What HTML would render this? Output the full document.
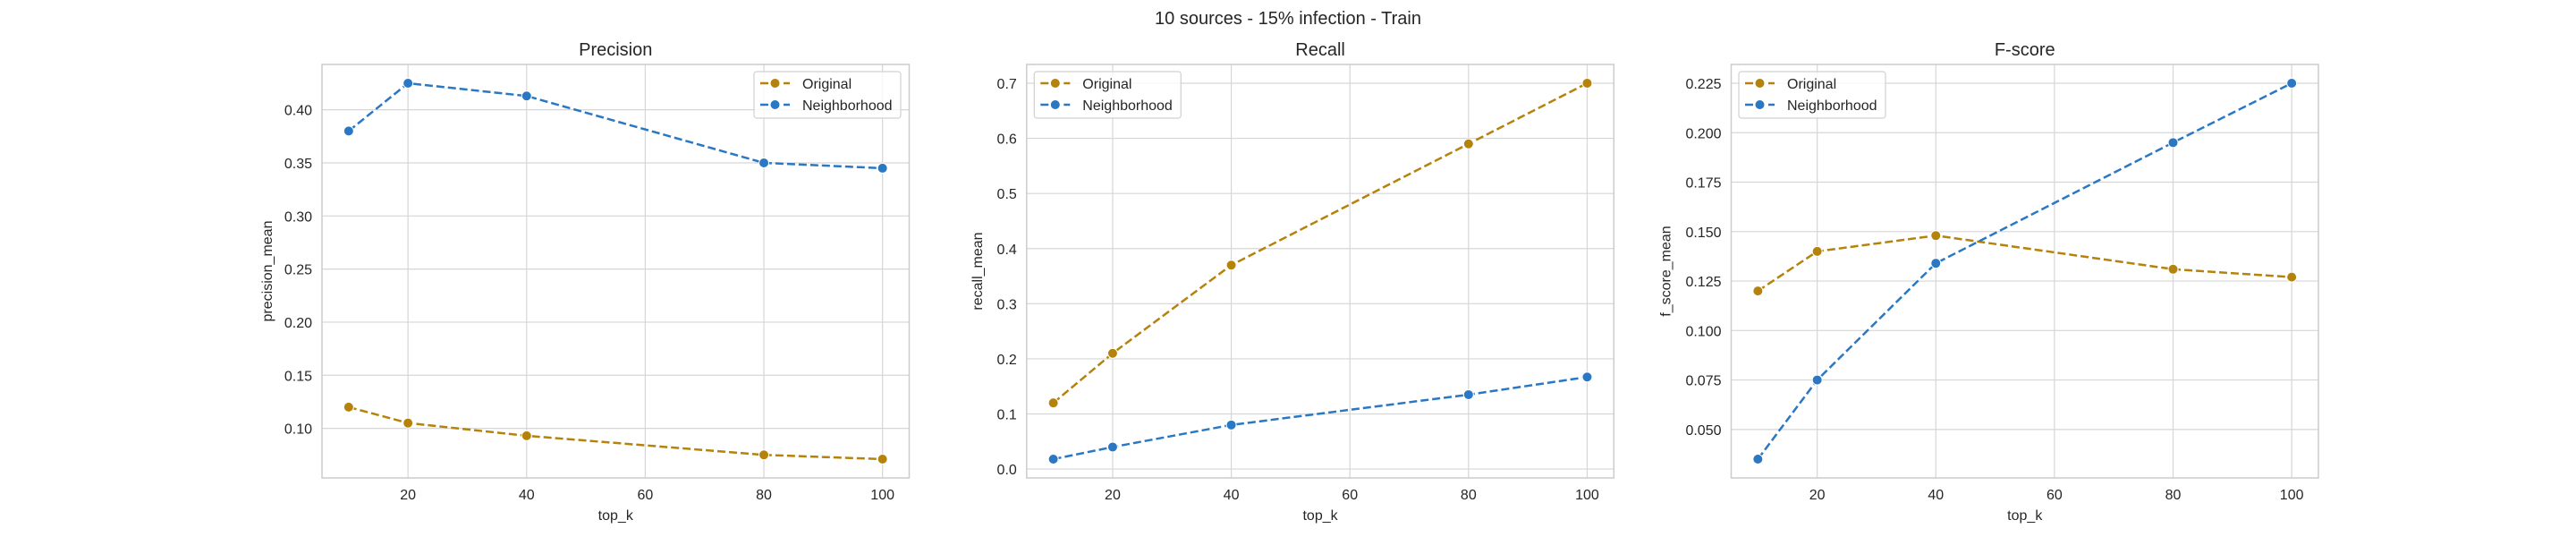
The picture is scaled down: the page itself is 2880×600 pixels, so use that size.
<!DOCTYPE html>
<html><head><meta charset="utf-8">
<style>
html,body{margin:0;padding:0;background:#fff;}
svg{display:block;font-family:"Liberation Sans",Arial,sans-serif;}
</style></head>
<body>
<svg id="fig" width="2880" height="600" viewBox="0 0 2880 600" xmlns="http://www.w3.org/2000/svg">
<rect x="0" y="0" width="2880" height="600" fill="#fff"/>
<text x="1440" y="27" font-size="20" fill="#262626" text-anchor="middle">10 sources - 15% infection - Train</text>
</svg>
<script>
const topK = [10, 20, 40, 80, 100];
const xTicks = [20, 40, 60, 80, 100];
const precisionOriginal = [0.12, 0.105, 0.093, 0.075, 0.071];
const precisionNeighborhood = [0.38, 0.425, 0.413, 0.35, 0.345];
const recallOriginal = [0.12, 0.21, 0.37, 0.59, 0.70];
const recallNeighborhood = [0.018, 0.04, 0.08, 0.135, 0.167];
const fscoreOriginal = [0.12, 0.14, 0.148, 0.131, 0.127];
const fscoreNeighborhood = [0.035, 0.075, 0.134, 0.195, 0.225];
const precisionTicks = ["0.10","0.15","0.20","0.25","0.30","0.35","0.40"];
const recallTicks = ["0.0","0.1","0.2","0.3","0.4","0.5","0.6","0.7"];
const fscoreTicks = ["0.050","0.075","0.100","0.125","0.150","0.175","0.200","0.225"];
const seriesNames = ["Original", "Neighborhood"];

const NS = "http://www.w3.org/2000/svg";
const svg = document.getElementById("fig");
const COL = ["#b5830b", "#2a78c4"];
function mk(tag, attrs, parent, text) {
  const e = document.createElementNS(NS, tag);
  for (const k in attrs) e.setAttribute(k, attrs[k]);
  if (text !== undefined) e.textContent = text;
  (parent || svg).appendChild(e);
  return e;
}
const panels = [
  {key:"precision", title:"Precision", ylabel:"precision_mean", x0:360, s:[precisionOriginal, precisionNeighborhood], ticks:precisionTicks, legend:"right", yl:56},
  {key:"recall", title:"Recall", ylabel:"recall_mean", x0:1147.8, s:[recallOriginal, recallNeighborhood], ticks:recallTicks, legend:"left", yl:50},
  {key:"fscore", title:"F-score", ylabel:"f_score_mean", x0:1935.5, s:[fscoreOriginal, fscoreNeighborhood], ticks:fscoreTicks, legend:"left", yl:68}
];
const W = 656.5, TOP = 72, BOT = 534;
panels.forEach(p => {
  const g = mk("g", {});
  
  
  const xmin = Math.min(...topK), xmax = Math.max(...topK);
  const xm = (xmax - xmin) * 0.05;
  const X = v => p.x0 + (v - (xmin - xm)) / ((xmax + xm) - (xmin - xm)) * W;
  const all = p.s[0].concat(p.s[1]);
  const ymin = Math.min(...all), ymax = Math.max(...all);
  const ym = (ymax - ymin) * 0.05;
  const lo = ymin - ym, hi = ymax + ym;
  const Y = v => BOT - (v - lo) / (hi - lo) * (BOT - TOP);
  xTicks.forEach(t => {
    const l = mk("line", {x1:X(t), x2:X(t), y1:TOP, y2:BOT, stroke:"#d6d6d6", "stroke-width":1.2}, g);
    
    
    const tx = mk("text", {x:X(t), y:558, "font-size":16, fill:"#262626", "text-anchor":"middle"}, g, String(t));
    
    
  });
  p.ticks.forEach(t => {
    const v = parseFloat(t);
    const l = mk("line", {x1:p.x0, x2:p.x0 + W, y1:Y(v), y2:Y(v), stroke:"#d6d6d6", "stroke-width":1.2}, g);
    
    
    const tx = mk("text", {x:p.x0 - 11, y:Y(v) + 6, "font-size":16, fill:"#262626", "text-anchor":"end"}, g, t);
    
    
  });
  const fr = mk("rect", {x:p.x0, y:TOP, width:W, height:BOT - TOP, fill:"none", stroke:"#cccccc", "stroke-width":1.5}, g);
  
  
  const ti = mk("text", {x:p.x0 + W / 2, y:62, "font-size":20, fill:"#262626", "text-anchor":"middle"}, g, p.title);
  
  
  const xl = mk("text", {x:p.x0 + W / 2, y:581, "font-size":16, fill:"#262626", "text-anchor":"middle"}, g, "top_k");
  
  
  const yl = mk("text", {x:0, y:0, "font-size":16, fill:"#262626", "text-anchor":"middle", transform:`translate(${p.x0 - p.yl},${(TOP + BOT) / 2}) rotate(-90)`}, g, p.ylabel);
  
  
  p.s.forEach((vals, si) => {
    const pts = topK.map((k, i) => X(k) + "," + Y(vals[i])).join(" ");
    const pl = mk("polyline", {points:pts, fill:"none", stroke:COL[si], "stroke-width":2.5, "stroke-dasharray":"9,4"}, g);
    
    
    topK.forEach((k, i) => {
      const c = mk("circle", {cx:X(k), cy:Y(vals[i]), r:5.5, fill:COL[si], stroke:"#fff", "stroke-width":1}, g);
      
      
    });
  });
  const lx = p.legend === "right" ? 843 : p.x0 + 8.5;
  const lg = mk("g", {}, g);
  
  
  mk("rect", {x:lx, y:80, width:164, height:52, rx:3, fill:"#fff", "fill-opacity":0.8, stroke:"#d0d0d0", "stroke-width":1.2}, lg);
  seriesNames.forEach((n, si) => {
    const yy = 93 + si * 24;
    const ent = mk("g", {}, lg);
    
    
    mk("line", {x1:lx + 7, x2:lx + 40, y1:yy, y2:yy, stroke:COL[si], "stroke-width":2.5, "stroke-dasharray":"9,4"}, ent);
    mk("circle", {cx:lx + 23.5, cy:yy, r:5.5, fill:COL[si], stroke:"#fff", "stroke-width":1}, ent);
    mk("text", {x:lx + 54, y:yy + 6, "font-size":16, fill:"#262626"}, ent, n);
  });
});
</script>
</body></html>
